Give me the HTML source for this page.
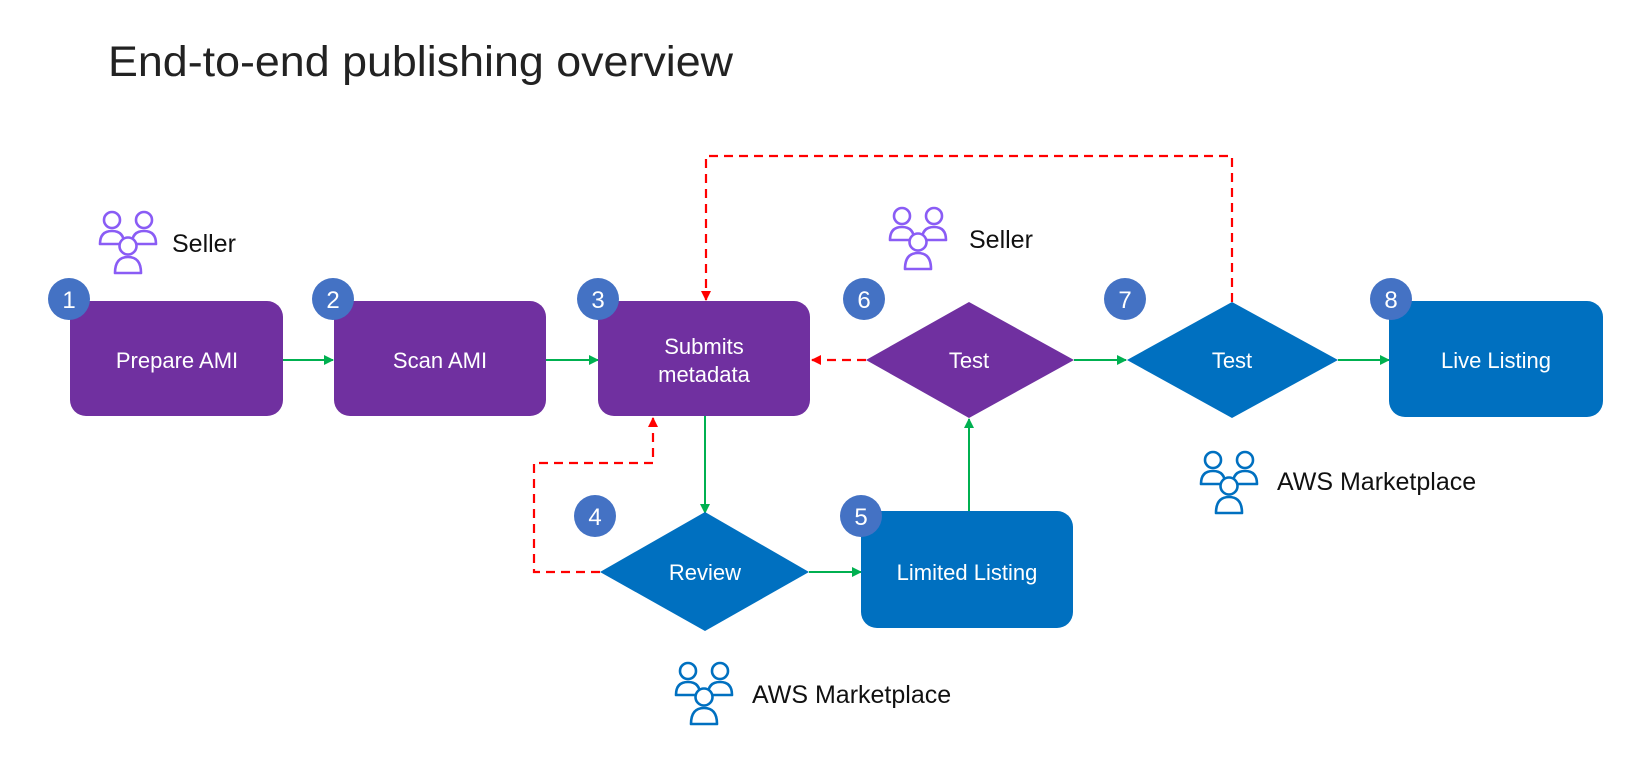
<!DOCTYPE html>
<html><head><meta charset="utf-8"><style>
html,body{margin:0;padding:0;background:#fff;}
svg{display:block;}
text{font-family:"Liberation Sans",sans-serif;}
</style></head><body>
<svg width="1651" height="767" viewBox="0 0 1651 767" xmlns="http://www.w3.org/2000/svg">
<defs>
<marker id="ag" markerWidth="10" markerHeight="10" refX="9" refY="5" orient="auto" markerUnits="userSpaceOnUse"><path d="M0,0 L10,5 L0,10 z" fill="#00b050"/></marker>
<marker id="ar" markerWidth="10" markerHeight="10" refX="9" refY="5" orient="auto" markerUnits="userSpaceOnUse"><path d="M0,0 L10,5 L0,10 z" fill="#ff0000"/></marker>
<g id="ppl" stroke-width="2.6" stroke-linejoin="round">
<circle cx="14" cy="10" r="8" fill="#fff"/>
<path d="M2,34 Q2,21 14,21 Q26,21 26,34 Z" fill="#fff"/>
<circle cx="46" cy="10" r="8" fill="#fff"/>
<path d="M34,34 Q34,21 46,21 Q58,21 58,34 Z" fill="#fff"/>
<circle cx="30" cy="36" r="8.5" fill="#fff"/>
<path d="M17,63 Q17,47 30,47 Q43,47 43,63 Z" fill="#fff"/>
</g>
</defs>
<text x="108" y="76" font-size="43" fill="#222" textLength="625" lengthAdjust="spacingAndGlyphs">End-to-end publishing overview</text>

<g stroke="#00b050" stroke-width="2" fill="none">
<line x1="283" y1="360" x2="333" y2="360" marker-end="url(#ag)"/>
<line x1="546" y1="360" x2="598" y2="360" marker-end="url(#ag)"/>
<line x1="705" y1="416" x2="705" y2="513" marker-end="url(#ag)"/>
<line x1="809" y1="572" x2="861" y2="572" marker-end="url(#ag)"/>
<line x1="969" y1="511" x2="969" y2="419" marker-end="url(#ag)"/>
<line x1="1074" y1="360" x2="1126" y2="360" marker-end="url(#ag)"/>
<line x1="1338" y1="360" x2="1389" y2="360" marker-end="url(#ag)"/>
</g>
<g stroke="#ff0000" stroke-width="2.2" fill="none" stroke-dasharray="9,6">
<polyline points="1232,302 1232,156 706,156 706,300" marker-end="url(#ar)"/>
<line x1="866" y1="360" x2="812" y2="360" marker-end="url(#ar)"/>
<polyline points="600,572 534,572 534,463 653,463 653,418" marker-end="url(#ar)"/>
</g>

<g fill="#7030a0">
<rect x="70" y="301" width="213" height="115" rx="16"/>
<rect x="334" y="301" width="212" height="115" rx="16"/>
<rect x="598" y="301" width="212" height="115" rx="16"/>
<polygon points="866,360 969,302 1074,360 969,418"/>
</g>
<g fill="#0070c0">
<polygon points="1127,360 1232,302 1338,360 1232,418"/>
<rect x="1389" y="301" width="214" height="116" rx="16"/>
<polygon points="600,572 705,512 809,572 705,631"/>
<rect x="861" y="511" width="212" height="117" rx="16"/>
</g>
<g fill="#fff" font-size="22" text-anchor="middle">
<text x="177" y="368">Prepare AMI</text>
<text x="440" y="368">Scan AMI</text>
<text x="704" y="354">Submits</text>
<text x="704" y="382">metadata</text>
<text x="969" y="368">Test</text>
<text x="1232" y="368">Test</text>
<text x="1496" y="368">Live Listing</text>
<text x="705" y="580">Review</text>
<text x="967" y="580">Limited Listing</text>
</g>

<g fill="#4472c4">
<circle cx="69" cy="299" r="21"/><circle cx="333" cy="299" r="21"/><circle cx="598" cy="299" r="21"/>
<circle cx="864" cy="299" r="21"/><circle cx="1125" cy="299" r="21"/><circle cx="1391" cy="299" r="21"/>
<circle cx="595" cy="516" r="21"/><circle cx="861" cy="516" r="21"/>
</g>
<g fill="#fff" font-size="24" text-anchor="middle">
<text x="69" y="308">1</text><text x="333" y="308">2</text><text x="598" y="308">3</text>
<text x="864" y="308">6</text><text x="1125" y="308">7</text><text x="1391" y="308">8</text>
<text x="595" y="525">4</text><text x="861" y="525">5</text>
</g>

<use href="#ppl" x="98" y="210" stroke="#8a5cf5"/>
<use href="#ppl" x="888" y="206" stroke="#8a5cf5"/>
<use href="#ppl" x="1199" y="450" stroke="#0070c0"/>
<use href="#ppl" x="674" y="661" stroke="#0070c0"/>
<g fill="#111" font-size="25">
<text x="172" y="252">Seller</text>
<text x="969" y="248">Seller</text>
<text x="1277" y="490">AWS Marketplace</text>
<text x="752" y="703">AWS Marketplace</text>
</g>
</svg>
</body></html>
